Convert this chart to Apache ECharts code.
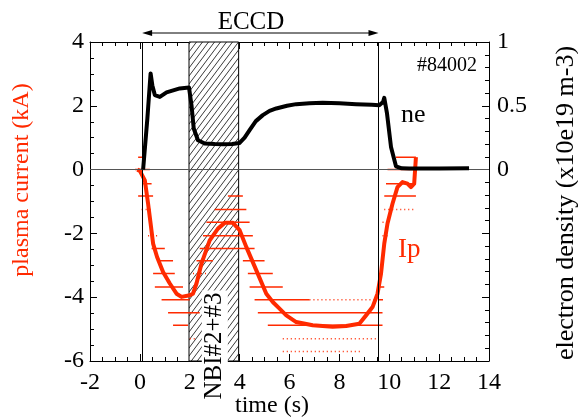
<!DOCTYPE html>
<html><head><meta charset="utf-8">
<script src="https://cdn.jsdelivr.net/npm/echarts@6/dist/echarts.min.js"></script>
<style>html,body{margin:0;padding:0;background:#fff}#c{width:578px;height:419px}</style>
</head><body><div id="c"></div>
<script>
// ---- data ----
const neTime  = [0.13, 0.3, 0.43, 0.5, 0.6, 0.8, 1.07, 1.6, 1.97, 2.07, 2.16, 2.33, 2.6, 3.0, 3.33, 3.7, 4.0, 4.2, 4.4, 4.65, 4.93, 5.2, 5.47, 5.9, 6.27, 6.8, 7.33, 8.0, 8.67, 9.3, 9.6, 9.75, 9.8, 9.91, 10.07, 10.27, 10.5, 10.8, 12.0, 13.2];
const neValue = [0.0, 0.4, 0.754, 0.66, 0.584, 0.57, 0.605, 0.636, 0.644, 0.505, 0.322, 0.23, 0.204, 0.2, 0.199, 0.2, 0.209, 0.25, 0.309, 0.38, 0.427, 0.46, 0.479, 0.5, 0.513, 0.52, 0.523, 0.52, 0.513, 0.508, 0.505, 0.53, 0.562, 0.44, 0.178, 0.026, 0.01, 0.008, 0.008, 0.01];

const ipTime  = [-0.1, 0.0, 0.2, 0.33, 0.43, 0.53, 0.69, 0.93, 1.2, 1.47, 1.67, 2.0, 2.13, 2.27, 2.47, 2.8, 3.13, 3.4, 3.73, 4.0, 4.27, 4.67, 5.07, 5.33, 5.6, 5.87, 6.27, 6.93, 7.73, 8.27, 8.8, 9.07, 9.33, 9.53, 9.67, 9.8, 9.93, 10.13, 10.33, 10.53, 10.73, 10.87, 11.0, 11.07];
const ipValue = [0.0, -0.04, -0.34, -1.07, -1.69, -2.32, -2.74, -3.21, -3.57, -3.89, -3.99, -3.94, -3.89, -3.57, -2.95, -2.22, -1.85, -1.67, -1.67, -1.9, -2.43, -3.16, -3.89, -4.15, -4.36, -4.57, -4.78, -4.88, -4.93, -4.9, -4.83, -4.57, -4.31, -3.89, -3.26, -2.32, -1.69, -1.07, -0.55, -0.39, -0.44, -0.55, -0.44, 0.39];

// raw quantized Ip samples drawn as horizontal streaks
const dashStart = [-0.07, -0.2, 0.13, -0.07, 0.07, 0.33, 0.47, 0.8, 0.53, 0.6, 0.87, 1.13, 1.33, 2.0,
                   3.53, 3.0, 2.67, 2.53, 2.4, 2.27, 4.13, 2.13, 4.33, 4.4, 4.6, 6.8, 4.73, 5.13, 5.73, 5.73,
                   10.27, 9.93, 9.87, 9.8, 9.8, 9.73, 9.73, 9.6, 9.55];
const dashEnd   = [0.2, 0.4, 0.47, 0.53, 0.53, 0.73, 1.0, 1.33, 1.4, 1.73, 2.0, 2.4, 1.93, 2.2,
                   4.13, 4.27, 4.4, 4.53, 4.6, 2.93, 5.0, 2.67, 5.33, 5.73, 6.8, 9.47, 9.73, 9.73, 9.53, 8.93,
                   11.07, 11.07, 11.07, 11.07, 11.07, 10.0, 9.93, 9.8, 9.75];
const dashLevel = [0.39, 0, -0.44, -0.83, -1.25, -2.07, -2.47, -2.86, -3.26, -3.68, -4.08, -4.49, -4.88, -5.3,
                   -0.83, -1.25, -1.65, -2.07, -2.47, -2.86, -2.86, -3.26, -3.26, -3.68, -4.08, -4.08, -4.49, -4.88, -5.3, -5.7,
                   0.39, 0, -0.44, -0.83, -1.25, -1.65, -2.07, -3.68, -4.08];
const dashDense = [1, 1, 1, 1, 0, 0, 1, 1, 1, 1, 1, 1, 1, 0,
                   1, 1, 1, 1, 1, 1, 1, 0, 1, 1, 1, 0, 1, 1, 0, 0,
                   1, 1, 1, 1, 0, 0, 0, 1, 1];

const xTickLabels = ['-2', '0', '2', '4', '6', '8', '10', '12', '14'];
const eccdWindow = [0.09, 9.57];
const nbiWindow = [1.97, 3.96];

// ---- build ----
const RED = '#ff2a00';
const FONT = 'Liberation Serif';
const chart = echarts.init(document.getElementById('c'));

function pairs(xs, ys) { return xs.map((x, i) => [x, ys[i]]); }
function segData(dense) {
  const out = [];
  for (let i = 0; i < dashStart.length; i++) {
    if (dashDense[i] !== dense) continue;
    out.push([dashStart[i], dashLevel[i]], [dashEnd[i], dashLevel[i]], [dashEnd[i], '-']);
  }
  return out;
}
const hatch = document.createElement('canvas');
hatch.width = 6; hatch.height = 8;
(function () {
  const c = hatch.getContext('2d');
  c.fillStyle = '#fff'; c.fillRect(0, 0, 6, 8);
  c.strokeStyle = '#222'; c.lineWidth = 0.9;
  for (const o of [-6, 0, 6]) { c.beginPath(); c.moveTo(o, 8); c.lineTo(o + 6, 0); c.stroke(); }
})();

function axis(extra) {
  return Object.assign({
    type: 'value',
    axisLine: { onZero: false, lineStyle: { color: '#000', width: 1 } },
    axisTick: { inside: true, length: 7, lineStyle: { color: '#000' } },
    splitLine: { show: false }
  }, extra);
}
const lbl = { fontFamily: FONT, fontSize: 24, color: '#000' };

const option = {
  animation: false,
  backgroundColor: '#fff',
  grid: { left: 90, right: 89, top: 42, bottom: 58 },
  xAxis: [
    axis({ min: -2, max: 14, interval: 2, position: 'bottom',
      minorTick: { show: true, splitNumber: 4, length: 4, lineStyle: { color: '#000' } },
      axisLabel: Object.assign({ margin: 10, formatter: v => xTickLabels[Math.round((v + 2) / 2)] }, lbl) }),
    axis({ min: -2, max: 14, interval: 2, position: 'top',
      minorTick: { show: true, splitNumber: 4, length: 4, lineStyle: { color: '#000' } },
      axisLabel: { show: false } })
  ],
  yAxis: [
    axis({ min: -6, max: 4, interval: 2, position: 'left',
      minorTick: { show: true, splitNumber: 4, length: 4, lineStyle: { color: '#000' } },
      axisLabel: Object.assign({ margin: 6 }, lbl) }),
    axis({ min: -1.5, max: 1, interval: 0.5, position: 'right',
      minorTick: { show: true, splitNumber: 5, length: 4, lineStyle: { color: '#000' } },
      axisLabel: Object.assign({ margin: 8, formatter: v => (v >= 0 ? String(v) : '') }, lbl) })
  ],
  series: [
    { type: 'line', data: [], z: 1, silent: true,
      markArea: { silent: true, z: 1,
        itemStyle: { color: { image: hatch, repeat: 'repeat' }, borderColor: '#000', borderWidth: 1 },
        data: [[{ xAxis: nbiWindow[0] }, { xAxis: nbiWindow[1] }]] },
      markLine: { silent: true, symbol: 'none', label: { show: false },
        data: [
          { xAxis: eccdWindow[0], lineStyle: { color: '#000', width: 1, type: 'solid' } },
          { xAxis: eccdWindow[1], lineStyle: { color: '#000', width: 1, type: 'solid' } },
          { yAxis: 0, lineStyle: { color: '#555', width: 1, type: 'solid' } }
        ] } },
    { type: 'line', data: segData(1), showSymbol: false, connectNulls: false, z: 3,
      lineStyle: { color: RED, width: 1.5 } },
    { type: 'line', data: segData(0), showSymbol: false, connectNulls: false, z: 3,
      lineStyle: { color: RED, width: 1.5, type: [1, 3] } },
    { type: 'line', data: pairs(ipTime, ipValue), showSymbol: false, z: 4,
      lineStyle: { color: RED, width: 4, join: 'round' } },
    { type: 'line', yAxisIndex: 1, data: pairs(neTime, neValue), showSymbol: false, z: 5,
      lineStyle: { color: '#000', width: 4, join: 'round' } }
  ]
};
chart.setOption(option);

const xa = chart.convertToPixel({ gridIndex: 0 }, [eccdWindow[0], 0]);
const xb = chart.convertToPixel({ gridIndex: 0 }, [eccdWindow[1], 0]);
const nbiMid = chart.convertToPixel({ gridIndex: 0 }, [(nbiWindow[0] + nbiWindow[1]) / 2, 0]);
const ay = 33;
chart.setOption({
  graphic: [
    { type: 'line', z: 100, shape: { x1: xa[0] + 8, y1: ay, x2: xb[0] - 8, y2: ay }, style: { stroke: '#000', lineWidth: 1 } },
    { type: 'polygon', z: 100, shape: { points: [[xa[0], ay], [xa[0] + 10, ay - 3], [xa[0] + 10, ay + 3]] }, style: { fill: '#000' } },
    { type: 'polygon', z: 100, shape: { points: [[xb[0], ay], [xb[0] - 10, ay - 3], [xb[0] - 10, ay + 3]] }, style: { fill: '#000' } },
    { type: 'text', z: 100, x: 251, y: 22, style: { text: 'ECCD', font: '25px "Liberation Serif"', fill: '#000', align: 'center', verticalAlign: 'middle' } },
    { type: 'text', z: 100, x: 447, y: 66, style: { text: '#84002', font: '20px "Liberation Serif"', fill: '#000', align: 'center', verticalAlign: 'middle' } },
    { type: 'text', z: 100, x: 401, y: 115, style: { text: 'ne', font: '26px "Liberation Serif"', fill: '#000', align: 'left', verticalAlign: 'middle' } },
    { type: 'text', z: 100, x: 398, y: 250, style: { text: 'Ip', font: '27px "Liberation Serif"', fill: RED, align: 'left', verticalAlign: 'middle' } },
    { type: 'text', z: 100, x: nbiMid[0] + 1, y: 346, rotation: Math.PI / 2,
      style: { text: 'NBI#2+#3', font: '25px "Liberation Serif"', fill: '#000', align: 'center', verticalAlign: 'middle', backgroundColor: '#fff', padding: [1, 2, 0, 2] } },
    { type: 'text', z: 100, x: 272, y: 406, style: { text: 'time (s)', font: '24px "Liberation Serif"', fill: '#000', align: 'center', verticalAlign: 'middle' } },
    { type: 'text', z: 100, x: 22, y: 180, rotation: Math.PI / 2, style: { text: 'plasma current (kA)', font: '24px "Liberation Serif"', fill: RED, align: 'center', verticalAlign: 'middle' } },
    { type: 'text', z: 100, x: 566, y: 203, rotation: Math.PI / 2, style: { text: 'electron density (x10e19 m-3)', font: '26px "Liberation Serif"', fill: '#000', align: 'center', verticalAlign: 'middle' } }
  ]
});
</script></body></html>
